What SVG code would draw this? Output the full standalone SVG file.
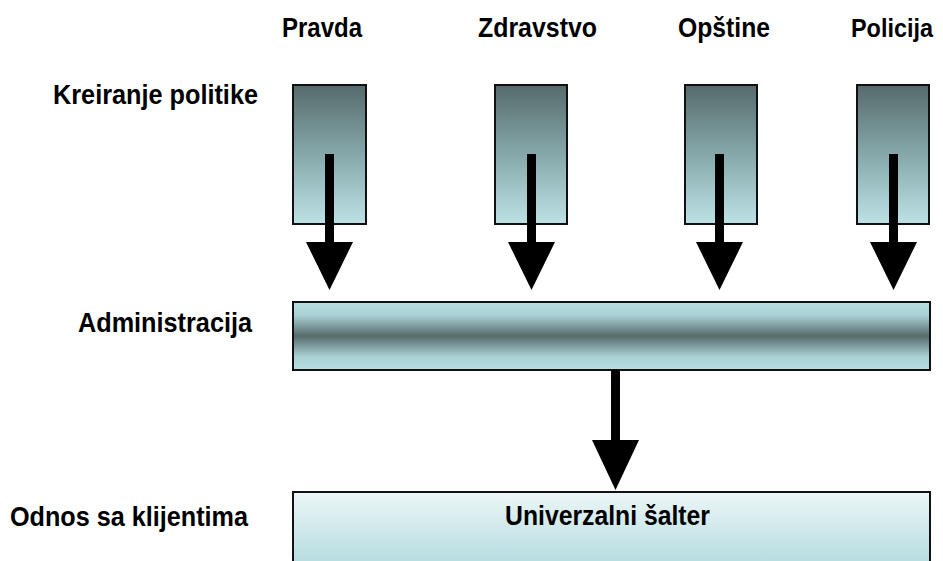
<svg xmlns="http://www.w3.org/2000/svg" width="943" height="561" viewBox="0 0 943 561">
<defs>
<linearGradient id="gv" x1="0" y1="0" x2="0" y2="1">
<stop offset="0" stop-color="#566a6a"/>
<stop offset="0.5" stop-color="#86a8aa"/>
<stop offset="1" stop-color="#bde2e6"/>
</linearGradient>
<linearGradient id="gh" x1="0" y1="0" x2="0" y2="1">
<stop offset="0" stop-color="#b8dfe2"/>
<stop offset="0.2" stop-color="#a9d0d4"/>
<stop offset="0.5" stop-color="#566a6a"/>
<stop offset="0.8" stop-color="#a9d0d4"/>
<stop offset="1" stop-color="#b8dfe2"/>
</linearGradient>
<linearGradient id="gb" x1="0" y1="0" x2="0" y2="1">
<stop offset="0" stop-color="#ecf6f7"/>
<stop offset="1" stop-color="#b3dbde"/>
</linearGradient>
<style>
text{font-family:"Liberation Sans Narrow","Liberation Sans",Arial,sans-serif;font-weight:bold;font-size:27px;fill:#000}
.box{stroke:#111;stroke-width:2}
.arr{fill:#000}
</style>
</defs>
<g id="labels">
<text x="282" y="37" textLength="80" lengthAdjust="spacingAndGlyphs">Pravda</text>
<text x="478" y="37" textLength="119" lengthAdjust="spacingAndGlyphs">Zdravstvo</text>
<text x="678" y="37" textLength="92" lengthAdjust="spacingAndGlyphs">Opštine</text>
<text x="851" y="37" style="font-size:25px" textLength="82" lengthAdjust="spacingAndGlyphs">Policija</text>
<text x="53" y="104" textLength="205" lengthAdjust="spacingAndGlyphs">Kreiranje politike</text>
<text x="78" y="332" textLength="174" lengthAdjust="spacingAndGlyphs">Administracija</text>
<text x="10" y="526" textLength="238" lengthAdjust="spacingAndGlyphs">Odnos sa klijentima</text>
</g>
<g id="node-pravda"><rect class="box" x="293" y="85" width="73" height="139" fill="url(#gv)"/></g>
<g id="node-zdravstvo"><rect class="box" x="495" y="85" width="72" height="139" fill="url(#gv)"/></g>
<g id="node-opstine"><rect class="box" x="685" y="85" width="72" height="139" fill="url(#gv)"/></g>
<g id="node-policija"><rect class="box" x="857" y="85" width="72" height="139" fill="url(#gv)"/></g>
<g id="node-administracija"><rect class="box" x="293" y="302" width="637" height="68" fill="url(#gh)"/></g>
<g id="node-salter"><rect class="box" x="293" y="492" width="637" height="75" fill="url(#gb)"/>
<text x="505" y="525" textLength="205" lengthAdjust="spacingAndGlyphs">Univerzalni šalter</text></g>
<g id="connectors">
<path class="arr" d="M325,154 H334 V242 H353 L329.5,290 L306,242 H325 Z"/>
<path class="arr" d="M527,154 H536 V242 H555 L531.5,290 L508,242 H527 Z"/>
<path class="arr" d="M715,154 H724 V242 H743 L719.5,290 L696,242 H715 Z"/>
<path class="arr" d="M889,154 H898 V242 H917 L893.5,290 L870,242 H889 Z"/>
<path class="arr" d="M611,370 H620 V440 H639 L615.5,490 L592,440 H611 Z"/>
</g>
</svg>
